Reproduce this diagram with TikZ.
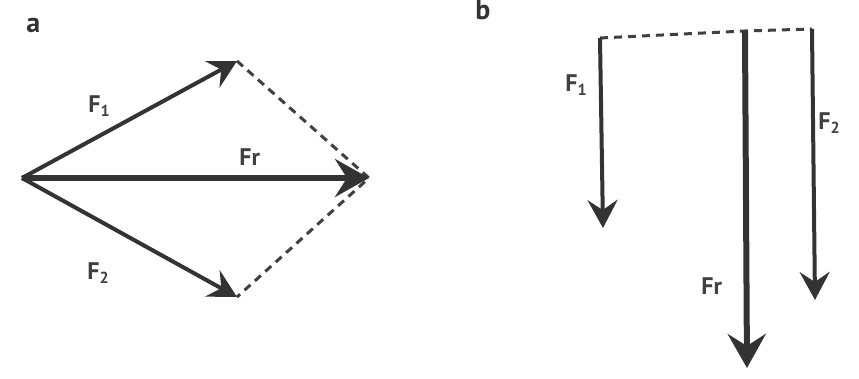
\documentclass[tikz,border=0pt]{standalone}
\usepackage{fontspec}
\setmainfont{PT Sans}
\usetikzlibrary{arrows.meta, positioning}

\tikzset{
	force/.style={line width=2pt, draw=black!80, -{Stealth[length=14pt, width=15pt, inset=5pt]}},
	result/.style={line width=3pt, draw=black!80, -{Stealth[length=17pt, width=19pt, inset=6pt]}},
	guide/.style={line width=1.5pt, draw=black!75, dash pattern=on 4pt off 3pt},
	lbl/.style={font=\fontsize{12}{14}\selectfont\bfseries, text=black!75, inner sep=0pt, anchor=base west},
	panel/.style={font=\fontsize{14}{16}\selectfont\bfseries, text=black!80, inner sep=0pt, anchor=base west}
}

\begin{document}
\begin{tikzpicture}[x=0.5pt, y=-0.5pt]
	\useasboundingbox (0,0) rectangle (859,379);

	\node[panel] (pa) at (26,33) {a};
	\coordinate (O) at (22,178);
	\coordinate (A1) at (237,61);
	\coordinate (A2) at (237,297);
	\coordinate (AR) at (369,178);

	\draw[guide] (A1) -- (AR) -- (A2);
	\draw[force] (O) -- (A1);
	\draw[force] (O) -- (A2);
	\draw[result] (O) -- (AR);

	\node[lbl] (lF1a) at (88,113) {F\textsubscript{1}};
	\node[lbl] (lFra) at (239,166) {Fr};
	\node[lbl] (lF2a) at (87,280) {F\textsubscript{2}};

	\node[panel] (pb) at (475,20) {b};
	\coordinate (B1) at (600,38);
	\coordinate (B1t) at (603,228);
	\coordinate (BR) at (745,31);
	\coordinate (BRt) at (747,368);
	\coordinate (B2) at (812,29);
	\coordinate (B2t) at (815,300);

	\draw[guide] (B1) -- (BR) -- (B2);
	\draw[force] (B1) -- (B1t);
	\draw[force] (B2) -- (B2t);
	\draw[result] (BR) -- (BRt);

	\node[lbl] (lF1b) at (565,92) {F\textsubscript{1}};
	\node[lbl] (lF2b) at (818,130) {F\textsubscript{2}};
	\node[lbl] (lFrb) at (701,295) {Fr};
\end{tikzpicture}
\end{document}
